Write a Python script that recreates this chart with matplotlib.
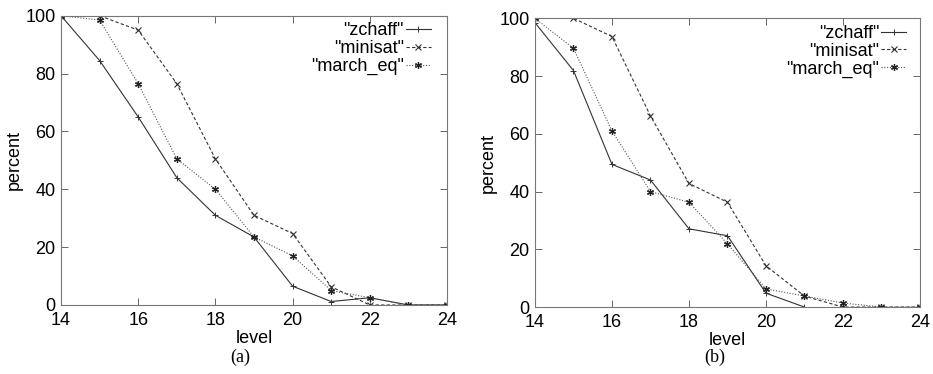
import numpy as np
import matplotlib.pyplot as plt

plt.rcParams['font.family'] = ['Liberation Sans', 'DejaVu Sans']

levels = np.arange(14, 25)

# panel (a)
zchaff_a = [100, 84.5, 65, 44, 31, 23.5, 6.5, 1.2, 2.5, 0, 0]
minisat_a = [100, 100, 95, 76.5, 50.5, 31, 24.7, 6.3, 0, 0, 0]
march_a = [100, 98.5, 76.5, 50.5, 40, 23.5, 17, 5, 2.5, 0, 0]

# panel (b)
zchaff_b = [98.5, 81.9, 49.4, 44, 27.1, 24.7, 4.8, 0]
minisat_b = [100, 100, 93.7, 66.2, 42.8, 36.3, 14.3, 3.8, 0, 0, 0]
march_b = [100, 89.6, 61, 40, 36.3, 21.9, 6.3, 3.8, 1.4, 0, 0]

labels = ['"zchaff"', '"minisat"', '"march_eq"']
captions = ['(a)', '(b)']

fig = plt.figure(figsize=(9.33, 3.74), dpi=100)
ax_a = fig.add_axes([0.0654, 0.1845, 0.4137, 0.7735])
ax_b = fig.add_axes([0.5734, 0.179, 0.4126, 0.772])

panels = [
    (ax_a, zchaff_a, minisat_a, march_a, 240, 0.968),
    (ax_b, zchaff_b, minisat_b, march_b, 715, 0.974),
]

for ax, zc, ms, me, cx, lx in panels:
    ax.plot(levels[:len(zc)], zc, color='#333333', lw=0.8, ls='-',
            marker='+', ms=5, mew=0.7, label=labels[0])
    ax.plot(levels[:len(ms)], ms, color='#333333', lw=0.8, ls=(0, (3, 2)),
            marker='x', ms=4.5, mew=0.8, label=labels[1])
    ax.plot(levels[:len(me)], me, color='#555555', lw=0.8, ls=(0, (1, 1.5)),
            marker=(6, 2, 0), ms=5, mew=0.9, mec='#222222', label=labels[2])
    ax.set_xlim(14, 24)
    ax.set_ylim(0, 100)
    ax.set_xticks([14, 16, 18, 20, 22, 24])
    ax.set_yticks([0, 20, 40, 60, 80, 100])
    ax.tick_params(direction='in', top=True, right=True, length=5,
                   width=0.7, color='#666666', labelsize=13)
    ax.tick_params(axis='x', pad=5)
    ax.tick_params(axis='y', pad=4)
    for s in ax.spines.values():
        s.set_color('#777777')
        s.set_linewidth(0.8)
    ax.set_xlabel('level', fontsize=13, labelpad=1)
    ax.set_ylabel('percent', fontsize=13, labelpad=2)
    ax.legend(loc='upper right', bbox_to_anchor=(lx, 0.99), frameon=False,
              markerfirst=False, fontsize=13, handlelength=1.4,
              handletextpad=0.1, labelspacing=0.05, borderaxespad=0.1,
              borderpad=0.1)

for (ax, zc, ms, me, cx, lx), cap in zip(panels, captions):
    fig.text(cx / 933, 1 - 357 / 374, cap, ha='center', va='center',
             fontsize=13, family='Liberation Serif')

fig.savefig('out.png', dpi=100)
